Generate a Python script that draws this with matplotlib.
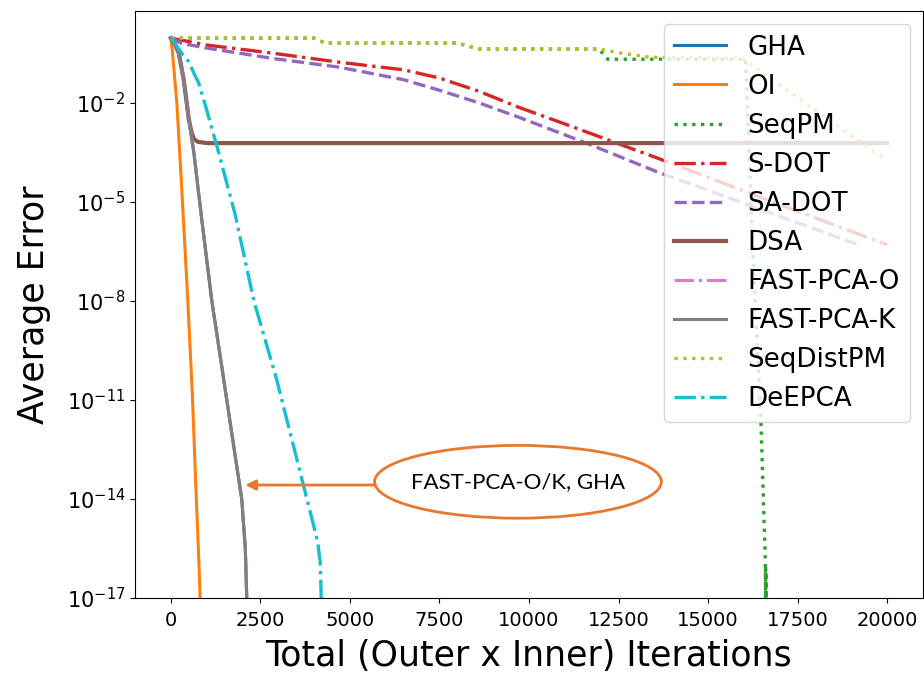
import numpy as np
import matplotlib.pyplot as plt
from matplotlib.patches import Ellipse

# ------------------------------------------------------------------
# values (x = total iterations, y = log10 error)
# ------------------------------------------------------------------
oi_x = [0, 40, 168, 300, 475, 600, 698, 780, 820, 830]
oi_y = [-0.04, -0.4, -2.0, -4.5, -8.0, -10.8, -13.6, -15.8, -17.0, -18.0]

fast_x = [0, 100, 223, 360, 503, 642, 866, 1145, 1480, 1700, 1980, 2080, 2120, 2130]
fast_y = [-0.04, -0.2, -0.5, -1.3, -2.5, -3.5, -5.55, -8.0, -10.4, -12.0, -14.0, -15.5, -17.0, -18.0]

seqpm_x = [0, 4000, 4300, 8000, 8600, 11950, 12200, 16050, 16250, 16480, 16600,
           16610, 16605, 16615, 16610, 16620]
seqpm_y = [-0.04, -0.04, -0.19, -0.19, -0.37, -0.37, -0.68, -0.68, -6.5, -11.8, -15.9,
           -17.3, -16.0, -17.3, -16.2, -17.3]

sdot_x = [0, 1000, 2800, 4700, 6500, 7500, 8600, 9700, 10900, 12000, 13600, 16800, 20000]
sdot_y = [-0.04, -0.25, -0.49, -0.77, -1.0, -1.25, -1.65, -2.13, -2.6, -3.04, -3.68, -5.0, -6.3]

sadot_x = [0, 300, 1000, 2800, 4700, 6500, 7500, 8600, 9700, 11600, 13600, 16400, 19200]
sadot_y = [-0.04, -0.2, -0.34, -0.65, -0.92, -1.3, -1.62, -2.0, -2.43, -3.22, -4.1, -5.2, -6.3]

dsa_x = [0, 100, 223, 360, 503, 580, 650, 750, 1000, 20000]
dsa_y = [-0.04, -0.2, -0.5, -1.3, -2.5, -2.9, -3.1, -3.18, -3.22, -3.22]

seqdist_x = [0, 4000, 4300, 8000, 8600, 11950, 12600, 13400, 15950, 17000, 18500, 20000]
seqdist_y = [-0.04, -0.04, -0.19, -0.19, -0.37, -0.37, -0.5, -0.62, -0.65, -1.46, -2.61, -3.75]

deepca_x = [0, 150, 307, 500, 642, 780, 978, 1340, 1800, 2320, 2960, 3660, 3940, 4100, 4170, 4195, 4200]
deepca_y = [-0.04, -0.25, -0.5, -0.75, -1.1, -1.4, -2.13, -3.52, -5.4, -8.0, -10.4, -13.4,
            -14.6, -15.3, -15.9, -16.8, -17.2]

x_ticks = [0, 2500, 5000, 7500, 10000, 12500, 15000, 17500, 20000]
y_ticks = [1e-17, 1e-14, 1e-11, 1e-8, 1e-5, 1e-2]

# label, x, log10 y, linestyle, linewidth  (colour follows the default cycle)
series = [
    ('GHA', fast_x, fast_y, '-', 2.2),
    ('OI', oi_x, oi_y, '-', 2.2),
    ('SeqPM', seqpm_x, seqpm_y, ':', 2.4),
    ('S-DOT', sdot_x, sdot_y, '-.', 2.4),
    ('SA-DOT', sadot_x, sadot_y, '--', 2.4),
    ('DSA', dsa_x, dsa_y, '-', 3.0),
    ('FAST-PCA-O', fast_x, fast_y, '-.', 2.2),
    ('FAST-PCA-K', fast_x, fast_y, '-', 2.2),
    ('SeqDistPM', seqdist_x, seqdist_y, ':', 2.4),
    ('DeEPCA', deepca_x, deepca_y, '-.', 2.4),
]

fig = plt.figure(figsize=(9.24, 6.73), dpi=100)
ax = fig.add_axes([0.1461, 0.1114, 0.8528, 0.8722])

for i, (name, xs, ls, style, lw) in enumerate(series):
    ax.plot(xs, 10.0 ** np.array(ls), linestyle=style, linewidth=lw,
            color=f'C{i}', label=name)

ax.set_yscale('log')
ax.set_ylim(1e-17, 10 ** 0.78)
ax.set_xlim(-1000, 21000)
ax.set_yticks(y_ticks)
ax.yaxis.set_minor_locator(plt.NullLocator())
ax.set_xticks(x_ticks)
ax.tick_params(axis='y', labelsize=15)
ax.tick_params(axis='x', labelsize=14, pad=6)

ax.set_xlabel('Total (Outer x Inner) Iterations', fontsize=25, labelpad=6)
ax.set_ylabel('Average Error', fontsize=25, labelpad=11)

ax.legend(loc='upper right', fontsize=18.8)

# callout: ellipse + arrow pointing at the FAST-PCA curve
orange = '#e8782f'
ax.add_patch(Ellipse((0.486, 0.198), 0.364, 0.124, transform=ax.transAxes,
                     facecolor='white', edgecolor=orange, linewidth=2, zorder=5))
ax.text(0.486, 0.198, 'FAST-PCA-O/K, GHA', transform=ax.transAxes, ha='center',
        va='center', fontsize=16, family=['Lato', 'DejaVu Sans'], zorder=6)
ax.annotate('', xy=(0.140, 0.1925), xytext=(0.305, 0.1925),
            xycoords='axes fraction', textcoords='axes fraction',
            arrowprops=dict(arrowstyle='-|>', color=orange, lw=2, mutation_scale=15,
                            shrinkA=0, shrinkB=0), zorder=6)

fig.savefig('out.png', dpi=100)
